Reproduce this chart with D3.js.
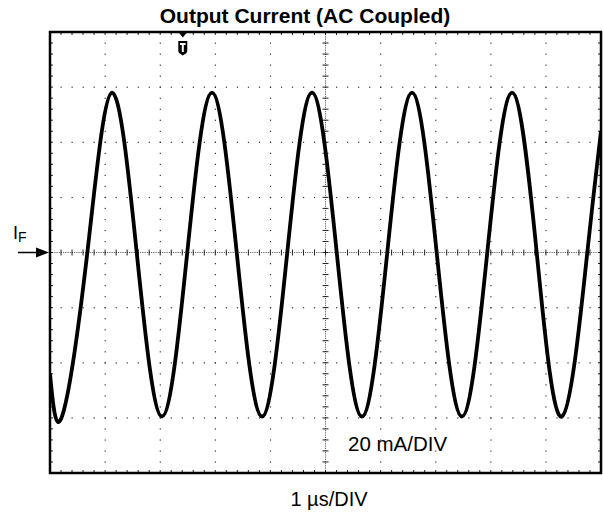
<!DOCTYPE html>
<html>
<head>
<meta charset="utf-8">
<script src="https://cdn.jsdelivr.net/npm/d3@7"></script>
<style>
  body { margin: 0; background: #fff; }
  svg { display: block; font-family: "Liberation Sans", Arial, sans-serif; }
  text { fill: #000; }
</style>
</head>
<body>
<svg id="chart" width="603" height="516"></svg>
<script>
// scope settings
var timeDivs = [0, 1, 2, 3, 4, 5, 6, 7, 8, 9, 10];        // us
var currentDivs = [-80, -60, -40, -20, 0, 20, 40, 60, 80]; // mA
var subDivs = 5;

// trace: peaks, troughs, zero crossings (us, mA)
var traceTime = [0, 0.218, 0.672, 1.125, 1.579, 2.033, 2.486, 2.940, 3.394, 3.848,
  4.301, 4.755, 5.209, 5.662, 6.116, 6.570, 7.023, 7.477, 7.931, 8.385,
  8.838, 9.292, 9.746, 10];
var traceCurrent = [-44, -59.5, -1, 58, -1, -59.5, -1, 58, -1, -59.5,
  -1, 58, -1, -59.5, -1, 58, -1, -59.5, -1, 58,
  -1, -59.5, -1, 44];

var triggerTime = 2.41;

(function () {
  var svg = d3.select('#chart');
  var pL = 50, pR = 601, pT = 32, pB = 473;

  var x = d3.scaleLinear().domain([0, 10]).range([pL, pR]);
  var y = d3.scaleLinear().domain([-80, 80]).range([pB, pT]);

  var divW = x(1) - x(0);
  var divH = y(0) - y(20);

  // dotted graticule
  var grid = svg.append('g').attr('fill', '#333');
  timeDivs.slice(1, -1).forEach(function (t) {
    if (t === 5) return;
    d3.range(1, 8 * subDivs).forEach(function (k) {
      grid.append('rect').attr('x', x(t) - 0.5).attr('y', pT + k * divH / subDivs - 0.5)
        .attr('width', 1.2).attr('height', 1.2);
    });
  });
  currentDivs.slice(1, -1).forEach(function (c) {
    if (c === 0) return;
    d3.range(1, 10 * subDivs).forEach(function (k) {
      grid.append('rect').attr('x', pL + k * divW / subDivs - 0.5).attr('y', y(c) - 0.5)
        .attr('width', 1.2).attr('height', 1.2);
    });
  });

  // centre axes, finer dots plus crosses
  svg.append('line').attr('x1', pL).attr('x2', pR).attr('y1', y(0)).attr('y2', y(0))
    .attr('stroke', '#444').attr('stroke-width', 1).attr('stroke-dasharray', '1,1.2');
  svg.append('line').attr('x1', x(5)).attr('x2', x(5)).attr('y1', pT).attr('y2', pB)
    .attr('stroke', '#444').attr('stroke-width', 1).attr('stroke-dasharray', '1,1.2');

  var ticks = svg.append('g').attr('stroke', '#222').attr('stroke-width', 1);
  d3.range(1, 10 * subDivs).forEach(function (k) {
    var px = pL + k * divW / subDivs;
    ticks.append('line').attr('x1', px).attr('x2', px).attr('y1', y(0) - 3).attr('y2', y(0) + 3);
    ticks.append('line').attr('x1', px).attr('x2', px).attr('y1', pT).attr('y2', pT + 3);
    ticks.append('line').attr('x1', px).attr('x2', px).attr('y1', pB).attr('y2', pB - 3);
  });
  d3.range(1, 8 * subDivs).forEach(function (k) {
    var py = pT + k * divH / subDivs;
    ticks.append('line').attr('y1', py).attr('y2', py).attr('x1', x(5) - 3).attr('x2', x(5) + 3);
    ticks.append('line').attr('y1', py).attr('y2', py).attr('x1', pL).attr('x2', pL + 3);
    ticks.append('line').attr('y1', py).attr('y2', py).attr('x1', pR).attr('x2', pR - 3);
  });

  // the trace
  var pts = traceTime.map(function (t, i) { return [t, traceCurrent[i]]; });
  var line = d3.line()
    .x(function (d) { return x(d[0]); })
    .y(function (d) { return y(d[1]); })
    .curve(d3.curveNatural);

  svg.append('clipPath').attr('id', 'screen').append('rect')
    .attr('x', pL).attr('y', pT).attr('width', pR - pL).attr('height', pB - pT);

  svg.append('path').datum(pts)
    .attr('clip-path', 'url(#screen)')
    .attr('d', line)
    .attr('fill', 'none')
    .attr('stroke', '#000')
    .attr('stroke-width', 3.8);

  // frame
  svg.append('rect').attr('x', pL).attr('y', pT)
    .attr('width', pR - pL).attr('height', pB - pT)
    .attr('fill', 'none').attr('stroke', '#000').attr('stroke-width', 2.5);

  // trigger marker
  var tx = x(triggerTime);
  svg.append('path').attr('d', 'M' + (tx - 4.5) + ',' + pT + 'L' + (tx + 4.5) + ',' + pT + 'L' + tx + ',' + (pT + 5.5) + 'Z')
    .attr('fill', '#000');
  svg.append('path')
    .attr('d', 'M' + (tx - 4.5) + ',' + (pT + 9) + 'H' + (tx + 4.5) + 'V' + (pT + 19) +
      'Q' + (tx + 4.5) + ',' + (pT + 21) + ' ' + tx + ',' + (pT + 23.5) +
      'Q' + (tx - 4.5) + ',' + (pT + 21) + ' ' + (tx - 4.5) + ',' + (pT + 19) + 'Z')
    .attr('fill', '#000');
  svg.append('path')
    .attr('d', 'M' + (tx - 2.8) + ',' + (pT + 11) + 'H' + (tx + 2.8) + 'V' + (pT + 13) + 'H' + (tx + 1) +
      'V' + (pT + 20) + 'H' + (tx - 1) + 'V' + (pT + 13) + 'H' + (tx - 2.8) + 'Z')
    .attr('fill', '#fff');

  // I_F level marker
  var ly = y(0);
  svg.append('line').attr('x1', 18).attr('x2', 40).attr('y1', ly).attr('y2', ly)
    .attr('stroke', '#000').attr('stroke-width', 1.5);
  svg.append('path').attr('d', 'M36,' + (ly - 5) + 'L' + (pL - 1) + ',' + ly + 'L36,' + (ly + 5) + 'Z')
    .attr('fill', '#000');
  var lbl = svg.append('text').attr('x', 13).attr('y', 239).attr('font-size', 18);
  lbl.append('tspan').text('I');
  lbl.append('tspan').attr('font-size', 14).attr('dy', 3).text('F');

  // texts
  svg.append('text').attr('x', 305).attr('y', 23).attr('text-anchor', 'middle')
    .attr('font-size', 21).attr('font-weight', 'bold').text('Output Current (AC Coupled)');
  svg.append('text').attr('x', 348).attr('y', 451).attr('font-size', 20.5).text('20 mA/DIV');
  svg.append('text').attr('x', 329).attr('y', 506).attr('text-anchor', 'middle')
    .attr('font-size', 20).text('1 µs/DIV');
})();
</script>
</body>
</html>
